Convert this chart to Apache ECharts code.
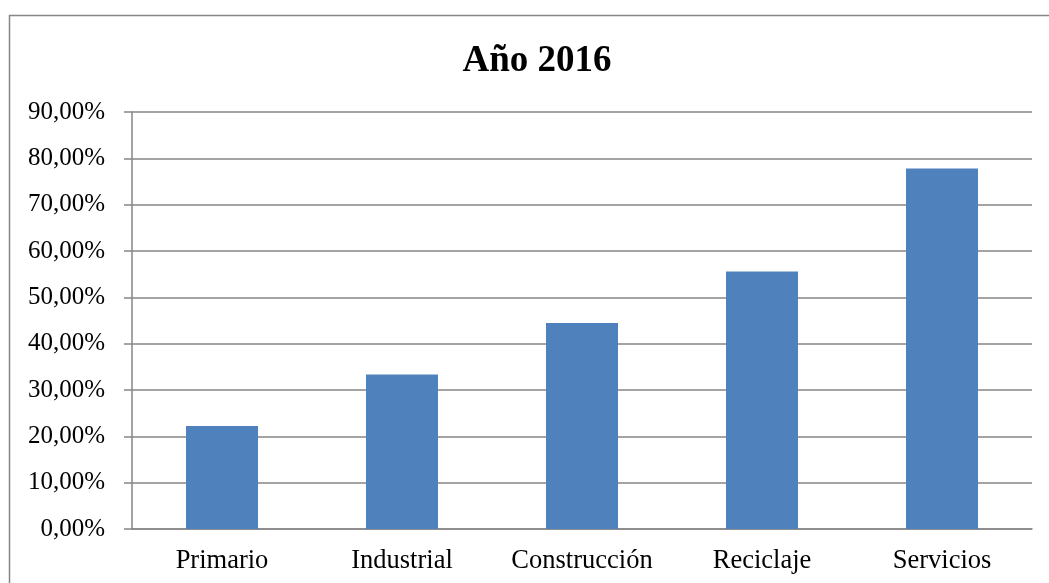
<!DOCTYPE html>
<html>
<head>
<meta charset="utf-8">
<script src="https://cdn.jsdelivr.net/npm/echarts@6/dist/echarts.min.js"></script>
<style>
  html, body { margin: 0; padding: 0; background: #fff; }
  #main { width: 1049px; height: 583px; }
</style>
</head>
<body>
<div id="main"></div>
<script>
// data
var categories = ['Primario', 'Industrial', 'Construcción', 'Reciclaje', 'Servicios']
var values = [22.22, 33.33, 44.44, 55.56, 77.78]
var yTicks = { min: 0, max: 90, interval: 10 }

var gray = '#868686'
var font = '"Liberation Serif", "Times New Roman", serif'

var myChart = echarts.init(document.getElementById('main'))
myChart.setOption({
    animation: false,
    title: {
        text: 'Año 2016',
        left: 532,
        top: 38,
        textAlign: 'center',
        textStyle: { fontFamily: font, fontSize: 37, fontWeight: 'bold', color: '#000' }
    },
    graphic: [{
        type: 'rect',
        shape: { x: 9.5, y: 15.5, width: 1100, height: 600 },
        style: { fill: 'none', stroke: gray, lineWidth: 1.5 },
        silent: true
    }],
    grid: { left: 132, right: 17, top: 112, bottom: 54 },
    xAxis: {
        type: 'category',
        data: categories,
        axisLine: { lineStyle: { color: gray, width: 1.5 } },
        axisTick: { length: 7, lineStyle: { color: gray, width: 1.5 } },
        axisLabel: { interval: 0, hideOverlap: false, fontFamily: font, fontSize: 26.5, color: '#000', margin: 19 }
    },
    yAxis: {
        type: 'value',
        min: yTicks.min,
        max: yTicks.max,
        interval: yTicks.interval,
        axisLine: { show: true, lineStyle: { color: gray, width: 1.5 } },
        axisTick: { show: true, length: 8, lineStyle: { color: gray, width: 1.5 } },
        splitLine: { lineStyle: { color: gray, width: 1.5 } },
        axisLabel: {
            fontFamily: font, fontSize: 25, color: '#000', margin: 27,
            formatter: function (v) { return v.toFixed(2).replace('.', ',') + '%' }
        }
    },
    series: [{
        type: 'bar',
        data: values,
        barWidth: 72,
        itemStyle: { color: '#4F81BD' }
    }]
})
</script>
</body>
</html>
